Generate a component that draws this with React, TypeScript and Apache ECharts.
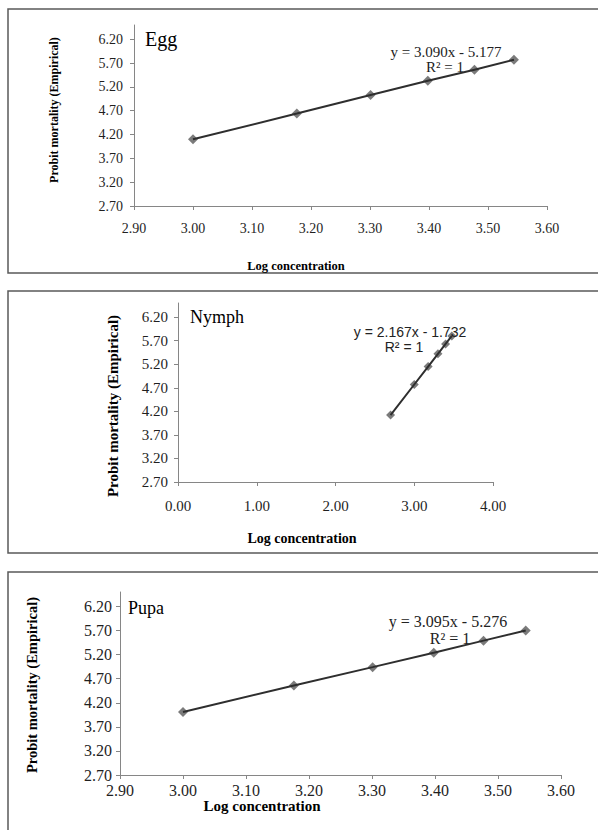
import React, { useEffect, useRef } from "react";
import * as echarts from "echarts";

// ---- Data ----
const eggX = [3.0, 3.176, 3.301, 3.398, 3.477, 3.544];
const eggY = [4.1, 4.64, 5.03, 5.33, 5.56, 5.77];
const nymphX = [2.699, 3.0, 3.176, 3.301, 3.398, 3.477];
const nymphY = [4.12, 4.77, 5.15, 5.42, 5.63, 5.8];
const pupaX = [3.0, 3.176, 3.301, 3.398, 3.477, 3.544];
const pupaY = [4.01, 4.56, 4.94, 5.24, 5.49, 5.7];

const yTicks = [2.7, 3.2, 3.7, 4.2, 4.7, 5.2, 5.7, 6.2];
const xTicksEgg = [2.9, 3.0, 3.1, 3.2, 3.3, 3.4, 3.5, 3.6];
const xTicksNymph = [0, 1, 2, 3, 4];
const xTicksPupa = [2.9, 3.0, 3.1, 3.2, 3.3, 3.4, 3.5, 3.6];

const panelNames = ["Egg", "Nymph", "Pupa"];
const equations = ["y = 3.090x - 5.177", "y = 2.167x - 1.732", "y = 3.095x - 5.276"];
const rSquared = "R² = 1";
const xTitle = "Log concentration";
const yTitle = "Probit mortality (Empirical)";

const SERIF = '"Liberation Serif", "Times New Roman", serif';
const SANS = '"Liberation Sans Narrow", "Liberation Sans", Arial, sans-serif';
const AXIS_COLOR = "#868686";

function xAxisCfg(gridIndex: number, min: number, max: number, ticks: number[], fontSize: number, margin: number) {
  return {
    type: "value",
    gridIndex,
    min,
    max,
    axisLine: { show: true, onZero: false, lineStyle: { color: AXIS_COLOR, width: 1 } },
    axisTick: { show: true, customValues: ticks, length: 4, lineStyle: { color: AXIS_COLOR } },
    axisLabel: {
      customValues: ticks,
      formatter: (v: number) => v.toFixed(2),
      fontFamily: SERIF,
      fontSize,
      color: "#1f1f1f",
      margin,
    },
    splitLine: { show: false },
  };
}

function yAxisCfg(gridIndex: number, fontSize: number, margin: number) {
  return {
    type: "value",
    gridIndex,
    min: 2.7,
    max: 6.5,
    axisLine: { show: true, onZero: false, lineStyle: { color: AXIS_COLOR, width: 1 } },
    axisTick: { show: true, customValues: yTicks, length: 4, lineStyle: { color: AXIS_COLOR } },
    axisLabel: {
      customValues: yTicks,
      formatter: (v: number) => v.toFixed(2),
      fontFamily: SERIF,
      fontSize,
      color: "#1f1f1f",
      margin,
    },
    splitLine: { show: false },
  };
}

function seriesFor(idx: number, xs: number[], ys: number[], size: number) {
  const data = xs.map((x, i) => [x, ys[i]]);
  return [
    {
      type: "scatter",
      xAxisIndex: idx,
      yAxisIndex: idx,
      data,
      symbol: "diamond",
      symbolSize: size,
      itemStyle: { color: "#5a5a5a" },
      z: 2,
    },
    {
      type: "line",
      xAxisIndex: idx,
      yAxisIndex: idx,
      data,
      showSymbol: false,
      lineStyle: { color: "#2e2e2e", width: 2 },
      z: 3,
    },
  ];
}

function txt(x: number, y: number, text: string, fontSize: number, opts: any = {}) {
  return {
    type: "text",
    x,
    y,
    rotation: opts.rotation || 0,
    z: 10,
    style: {
      text,
      fontFamily: opts.fontFamily || SERIF,
      fontSize,
      fontWeight: opts.fontWeight || "normal",
      fill: opts.fill || "#000",
      align: opts.align || "center",
      verticalAlign: "middle",
    },
  };
}

function border(y: number, h: number) {
  return {
    type: "rect",
    shape: { x: 8, y, width: 620, height: h },
    style: { fill: "none", stroke: "#5a5a5a", lineWidth: 1.5 },
  };
}

export default function App() {
  const ref = useRef<HTMLDivElement>(null);
  useEffect(() => {
    if (!ref.current) return;
    const chart = echarts.init(ref.current, undefined, { renderer: "svg" });
    chart.setOption({
      animation: false,
      backgroundColor: "#fff",
      grid: [
        { left: 134, top: 25, width: 413, height: 181 },
        { left: 178, top: 303, width: 315, height: 179 },
        { left: 120, top: 592, width: 441, height: 183 },
      ],
      xAxis: [
        xAxisCfg(0, 2.9, 3.6, xTicksEgg, 14, 15),
        xAxisCfg(1, 0, 4, xTicksNymph, 15, 16),
        xAxisCfg(2, 2.9, 3.6, xTicksPupa, 16, 7),
      ],
      yAxis: [yAxisCfg(0, 14, 11), yAxisCfg(1, 15, 10), yAxisCfg(2, 16, 8)],
      series: [
        ...seriesFor(0, eggX, eggY, 10),
        ...seriesFor(1, nymphX, nymphY, 9),
        ...seriesFor(2, pupaX, pupaY, 10),
      ],
      graphic: [
        border(9, 264),
        border(291, 262),
        border(572, 280),
        // panel labels
        txt(145, 39, panelNames[0], 20, { align: "left" }),
        txt(190, 317, panelNames[1], 18, { align: "left" }),
        txt(128, 608, panelNames[2], 18, { align: "left" }),
        // equations
        txt(446, 52, equations[0], 15, { fill: "#222" }),
        txt(445, 67, rSquared, 15, { fill: "#222" }),
        txt(410, 332, equations[1], 14, { fontFamily: SANS, fill: "#222" }),
        txt(404, 347, rSquared, 14, { fontFamily: SANS, fill: "#222" }),
        txt(448, 621, equations[2], 16, { fill: "#222" }),
        txt(450, 638, rSquared, 16, { fill: "#222" }),
        // x titles
        txt(296, 266, xTitle, 12.5, { fontWeight: "bold" }),
        txt(302, 538, xTitle, 14, { fontWeight: "bold" }),
        txt(262, 806, xTitle, 15, { fontWeight: "bold" }),
        // y titles
        txt(54, 110, yTitle, 12, { fontWeight: "bold", rotation: Math.PI / 2 }),
        txt(113, 406, yTitle, 15, { fontWeight: "bold", rotation: Math.PI / 2 }),
        txt(32, 685, yTitle, 14.5, { fontWeight: "bold", rotation: Math.PI / 2 }),
      ],
    });
    return () => chart.dispose();
  }, []);
  return (
    <div
      ref={ref}
      style={{ position: "absolute", left: 0, top: 0, width: 598, height: 830 }}
    />
  );
}
